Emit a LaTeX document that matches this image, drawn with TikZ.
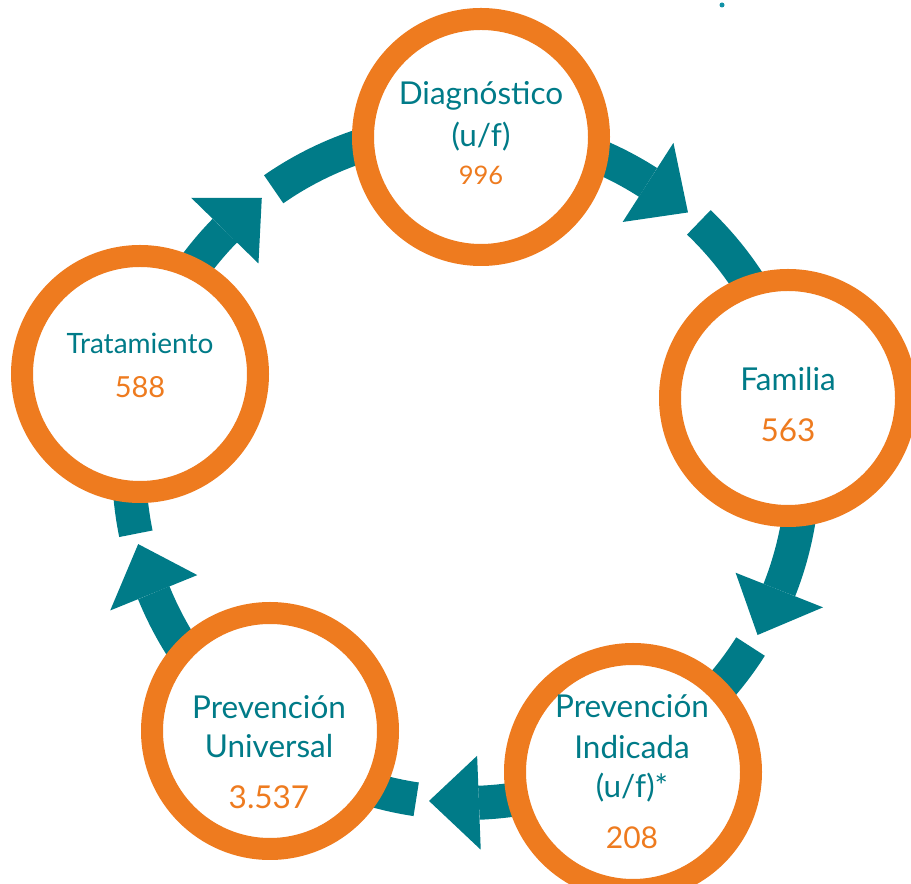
\documentclass[tikz,border=0pt]{standalone}
\usepackage{fontspec}
\setmainfont{Lato}
\usetikzlibrary{backgrounds}
\definecolor{tealc}{HTML}{007B88}
\definecolor{tealdot}{HTML}{1192A6}
\definecolor{orng}{HTML}{EE7B1F}
\begin{document}
\begin{tikzpicture}[x=1pt,y=1pt,
  ring/.style={circle, draw=orng, line width=22pt, fill=white, minimum size=236pt, inner sep=0pt},
  lbl/.style={text=tealc, anchor=base, inner sep=0pt, font=\fontsize{31.5}{36}\selectfont},
  num/.style={text=orng, anchor=base, inner sep=0pt, font=\fontsize{31.5}{36}\selectfont},
  band/.style={draw=tealc, line width=34pt, line cap=butt},
  head/.style={fill=tealc}
]
\path[use as bounding box, clip] (0,0) rectangle (911,884);
\coordinate (O) at (466,418);

\node[ring] (diag) at (481,747) {};
\node[ring] (fam) at (788,486) {};
\node[ring] (pind) at (633,112) {};
\node[ring] (puni) at (270,153) {};
\node[ring] (trat) at (140,510) {};

\node[lbl] (diagA) at (481,779.7) {Diagnóstico};
\node[lbl] (diagB) at (481,737) {(u/f)};
\node[num, font=\fontsize{25.5}{30}\selectfont] (diagN) at (481,699) {996};

\node[lbl] (famA) at (788,493) {Familia};
\node[num] (famN) at (788,442) {563};

\node[lbl] (pindA) at (632,166.7) {Prevención};
\node[lbl] (pindB) at (632,125.7) {Indicada};
\node[lbl] (pindC) at (632,86) {(u/f)*};
\node[num, font=\fontsize{30}{34}\selectfont] (pindN) at (632,35.3) {208};

\node[lbl] (puniA) at (269,165.7) {Prevención};
\node[lbl] (puniB) at (269,126.3) {Universal};
\node[num] (puniN) at (269,75) {3.537};

\node[lbl, font=\fontsize{28}{32}\selectfont] (tratA) at (140,530.7) {Tratamiento};
\node[num, font=\fontsize{29}{33}\selectfont] (tratN) at (140,486.7) {588};

\node[circle, fill=tealdot, inner sep=0pt, minimum size=5pt] (dot) at (722,879) {};

\begin{pgfonlayer}{background}
\foreach \s/\b/\t/\g/\d in {87.4/57.3/48.8/46.3/11.9,
                             11.9/-21.6/-30.1/-32.4/-61.4,
                             -61.4/-87.8/-96.3/-98.5/-126.5,
                             -126.5/-157.9/-166.6/-168.4/-195.8,
                             164.2/135.7/127.3/124.8/87.4}{
  \draw[band] ([shift={(O)}]\s:337) arc[start angle=\s, end angle=\b, radius=337];
  \fill[head] ([shift={(O)}]\b:290) -- ([shift={(O)}]\t:337) -- ([shift={(O)}]\b:384) -- cycle;
  \draw[band] ([shift={(O)}]\g:337) arc[start angle=\g, end angle=\d, radius=337];
}
\end{pgfonlayer}
\end{tikzpicture}
\end{document}
